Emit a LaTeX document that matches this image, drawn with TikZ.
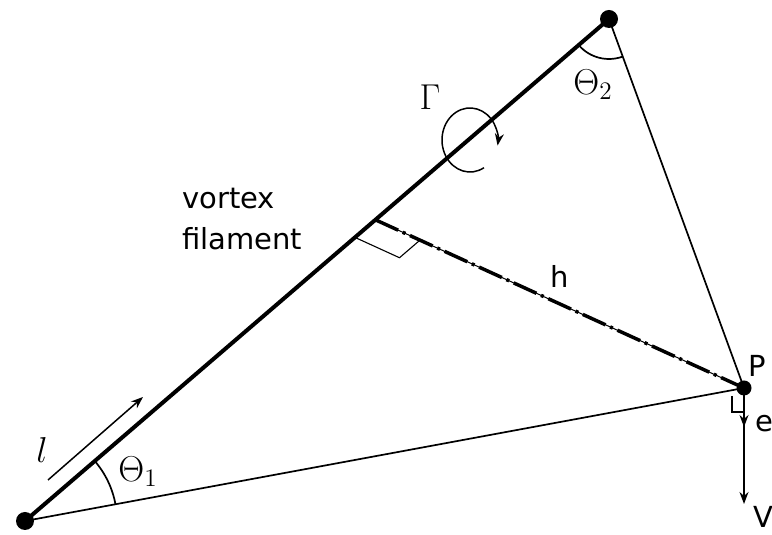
\RequirePackage{fix-cm}
\documentclass[tikz,border=0pt]{standalone}
\usepackage{fontspec}
\newfontfamily\labelfont{DejaVu Sans}
\usetikzlibrary{arrows.meta,calc}

\begin{document}
\begin{tikzpicture}[
  x=0.5pt, y=0.5pt,
  >={Stealth[length=6pt,width=4.5pt]},
  dotnode/.style={circle, fill=black, inner sep=0pt, minimum size=#1},
  dotnode/.default=9pt,
  filament/.style={line width=2pt},
  thinline/.style={line width=0.85pt},
  arrowline/.style={->, line width=0.75pt},
  marker/.style={line width=0.55pt},
  txt/.style={font=\labelfont\fontsize{14.5}{20.5}\selectfont, inner sep=0pt},
  sym/.style={font=\fontsize{18}{20}\selectfont, inner sep=0pt},
]
\useasboundingbox (0,0) rectangle (772,535);
\node[dotnode] (A) at (25,14) {};
\node[dotnode] (B) at (609,516) {};
\node[dotnode=7.5pt] (P) at (744,147) {};
\coordinate (F) at ($(A.center)!0.6!(B.center)$);
\coordinate (G) at (470,395);
\coordinate (l0) at (48,55);
\coordinate (l1) at (143,138);
\coordinate (etip) at (744,108);
\coordinate (Vtip) at (744,31);

\draw[filament] (A.center) -- (B.center);
\draw[thinline] (A.center) -- (P.center);
\draw[thinline] (B.center) -- (P.center);
\draw[line width=0.5pt] (F) -- (P.center);
\draw[line width=1.75pt, dash pattern=on 12.5pt off 2.5pt on 1.5pt off 2.5pt] (F) -- (P.center);

\coordinate (F1) at ($(F)!13.5pt!(A.center)$);
\coordinate (F2) at ($(F)!24.5pt!(P.center)$);
\draw[marker] (F1) -- ($(F1)+(F2)-(F)$) -- (F2);
\draw[marker] ($(P.center)+(-12,-8)$) -- ($(P.center)+(-12,-24)$) -- ($(P.center)+(0,-24)$);

\draw[thinline] ([shift={(10.5:46pt)}]A.center) arc[start angle=10.5, end angle=40.7, radius=46pt];
\draw[thinline] ([shift={(220.7:20pt)}]B.center) arc[start angle=220.7, end angle=290.1, radius=20pt];
\draw[arrowline] ([shift={(-60:14pt and 16pt)}]G) arc[start angle=-60, end angle=-370, x radius=14pt, y radius=16pt];

\draw[arrowline] (l0) -- (l1);
\draw[arrowline] (P.center) -- (Vtip);
\draw[arrowline] (P.center) -- (etip);

\node[sym] (gamma) at (430,438) {$\Gamma$};
\node[sym] (theta2) at (593,450) {$\Theta_2$};
\node[sym] (theta1) at (138,63) {$\Theta_1$};
\node[sym] (ell) at (42,85) {$l$};
\node[txt, anchor=north west, align=left] (filamentlabel) at (182,347) {vortex\\filament};
\node[txt] (hlabel) at (560,259) {h};
\node[txt] (Plabel) at (757,169) {P};
\node[txt] (elabel) at (764,111) {e};
\node[txt] (Vlabel) at (763,18) {V};
\end{tikzpicture}
\end{document}
